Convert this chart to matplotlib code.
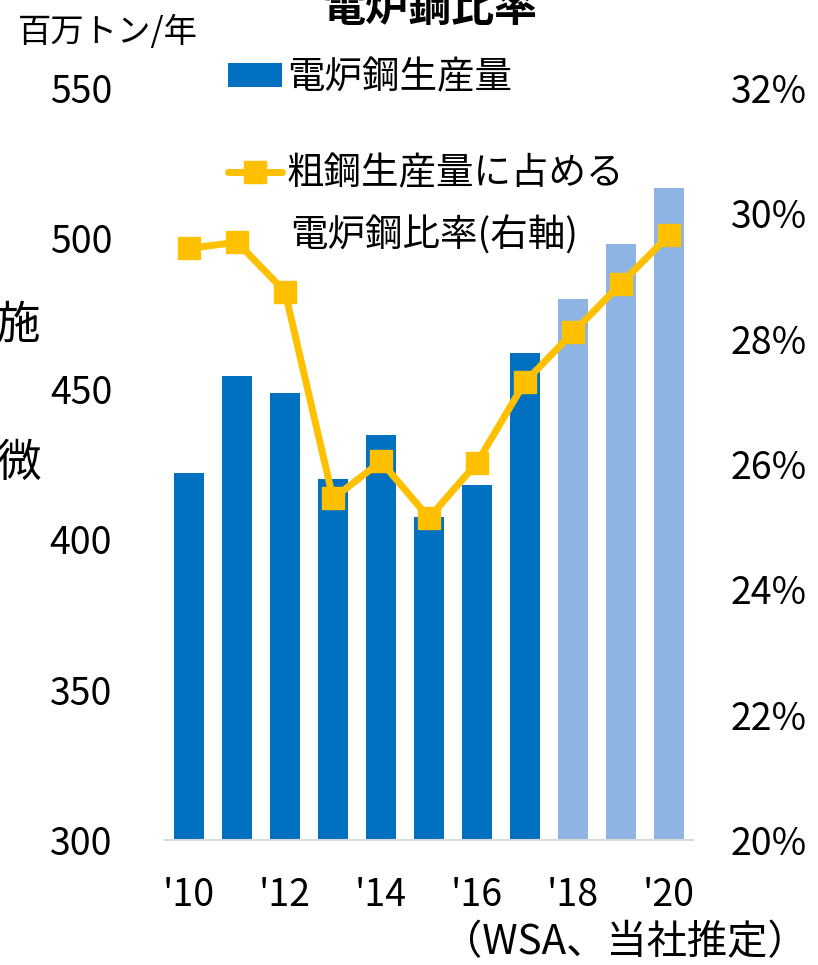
import numpy as np
import matplotlib
matplotlib.use('Agg')
import matplotlib.pyplot as plt

plt.rcParams['font.family'] = ['Noto Sans CJK JP', 'DejaVu Sans']

# data
years = [2010, 2011, 2012, 2013, 2014, 2015, 2016, 2017, 2018, 2019, 2020]
eaf_output = [422, 454.4, 448.5, 420.1, 434.6, 407.4, 417.9, 461.8, 479.9, 498.1, 516.8]   # 百万トン/年
eaf_ratio = [29.44, 29.54, 28.75, 25.45, 26.04, 25.14, 26.02, 27.31, 28.10, 28.88, 29.65]  # %
estimated = [False] * 8 + [True] * 3
xtick_years = [2010, 2012, 2014, 2016, 2018, 2020]

dark_blue = '#0070C0'
light_blue = '#8DB4E2'
orange = '#FFC000'

fig = plt.figure(figsize=(8.18, 9.65), dpi=100)
ax = fig.add_axes([165/818, 1 - 840/965, 528/818, 752/965])

x = np.arange(len(years))
cols = [light_blue if e else dark_blue for e in estimated]
bars = ax.bar(x, np.array(eaf_output) - 300, bottom=300, width=0.625, color=cols, zorder=2)

ax.set_xlim(-0.5, len(years) - 0.5)
ax.set_ylim(300, 550)
ax.set_yticks(np.arange(300, 551, 50))
ax.set_xticks([years.index(y) for y in xtick_years])
ax.set_xticklabels(["'%02d" % (y % 100) for y in xtick_years])
ax.tick_params(axis='y', length=0, pad=38, labelsize=27)
ax.tick_params(axis='x', length=0, pad=26, labelsize=27)
for s in ['top', 'left', 'right']:
    ax.spines[s].set_visible(False)
ax.spines['bottom'].set_color('#D9D9D9')
ax.spines['bottom'].set_linewidth(1.5)

ax2 = ax.twinx()
line, = ax2.plot(x, eaf_ratio, color=orange, lw=5, marker='s', ms=16.5, zorder=3)
ax2.set_ylim(20, 32)
ax2.set_yticks(np.arange(20, 33, 2))
ax2.set_yticklabels(['%d%%' % v for v in np.arange(20, 33, 2)])
ax2.tick_params(axis='y', length=0, pad=27, labelsize=27)
for s in ['top', 'left', 'right', 'bottom']:
    ax2.spines[s].set_visible(False)

leg = ax2.legend([bars[0], line], ['電炉鋼生産量', '粗鋼生産量に占める'],
                 loc='upper left', bbox_to_anchor=(228/818, 1 - 58/965),
                 bbox_transform=fig.transFigure, frameon=False, fontsize=27,
                 handlelength=1.45, handleheight=0.6, handletextpad=0.12,
                 labelspacing=1.53, borderpad=0, borderaxespad=0)
leg.get_lines()[0].set_solid_capstyle('round')
fig.text(290/818, 1 - 236/965, '電炉鋼比率(右軸)', fontsize=27, va='center', ha='left')

fig.text(430/818, 1 - 21/965, '電炉鋼比率', fontsize=31, fontweight='bold',
         ha='center', va='baseline')
fig.text(18/818, 1 - 33/965, '百万トン/年', fontsize=24, ha='left', va='center')
fig.text(625/818, 1 - 943/965, '（WSA、当社推定）', fontsize=29, ha='center', va='center')

# fragments of neighbouring slide text at the left edge
fig.text(-4/818, 1 - 325/965, '施', fontsize=32, ha='left', va='center')
fig.text(-4/818, 1 - 463/965, '微', fontsize=32, ha='left', va='center')

fig.savefig('out.png', dpi=100)
